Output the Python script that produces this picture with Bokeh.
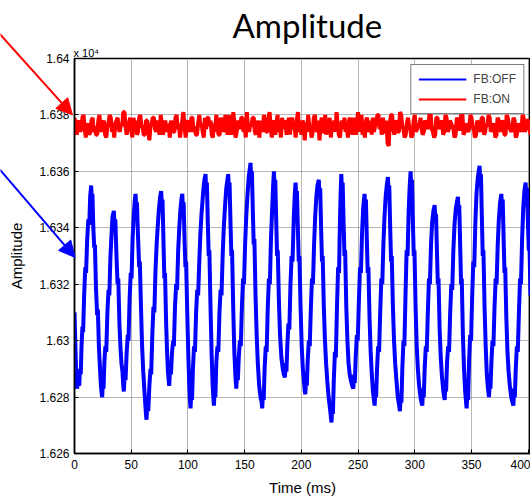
from bokeh.plotting import figure
from bokeh.models import (FixedTicker, Title, Range1d, Arrow, NormalHead)
from bokeh.embed import file_html
from bokeh.resources import INLINE

# ---------------- data ----------------
# FB:OFF (blue): time (ms) and amplitude (raw units; axis shows x 10^4)
t_off = [
    0.0, 0.8, 1.5, 2.0, 2.4, 3.0, 3.5, 4.2, 4.8, 5.5, 6.2, 7.0, 7.6, 8.5, 9.5, 10.2, 11.2, 12.2, 13.0, 13.8, 14.7,
    15.2, 15.8, 16.6, 17.4, 18.0, 19.0, 20.0, 20.6, 21.5, 22.5, 23.3, 24.0, 24.4,
    25.0, 25.6, 26.3, 27.2, 28.0, 29.0, 30.0, 30.7, 31.7, 32.7, 33.5, 34.7,
    35.3, 36.0, 37.0, 38.0, 38.6, 39.6, 40.6, 41.4, 42.3, 43.0, 43.5,
    44.2, 45.0, 46.0, 47.0, 47.6, 48.6, 49.6, 50.3, 51.2, 52.2, 53.0, 53.8,
    54.4, 55.0, 56.0, 57.0, 57.6, 58.6, 59.6, 60.6, 61.5, 62.5, 63.2, 63.5,
    64.2, 65.0, 66.0, 67.0, 67.6, 68.6, 69.6, 70.4, 71.4, 72.4, 73.3, 74.3, 75.5, 76.4,
    77.0, 77.6, 78.4, 79.2, 79.8, 80.8, 81.6, 82.4, 83.0, 83.5,
    84.2, 85.0, 86.0, 87.0, 87.6, 88.6, 89.6, 90.4, 91.4, 92.4, 93.3, 94.2, 95.0,
    95.6, 96.2, 97.0, 97.8, 98.4, 99.4, 100.4, 101.2, 101.8, 102.3,
    103.0, 103.6, 104.4, 105.4, 106.2, 107.2, 108.2, 109.0, 110.0, 111.0, 112.0, 113.5, 114.5, 115.5,
    116.1, 116.7, 117.5, 118.3, 118.9, 119.9, 120.9, 121.8, 122.4, 122.9,
    123.6, 124.2, 125.0, 126.0, 126.8, 127.8, 128.8, 129.6, 130.6, 131.6, 132.6, 133.8, 135.5,
    136.1, 136.7, 137.5, 138.3, 138.9, 139.9, 140.9, 141.8, 142.6,
    143.3, 144.0, 144.8, 145.8, 146.6, 147.6, 148.6, 149.4, 150.4, 151.4, 152.4, 153.6, 155.2,
    155.8, 156.4, 157.2, 158.0, 158.6, 159.6, 160.6, 161.6, 162.8, 164.0, 165.0, 165.5,
    166.2, 166.8, 167.6, 168.6, 169.4, 170.4, 171.4, 172.2, 173.2, 174.2, 175.0, 175.8,
    176.4, 177.0, 177.8, 178.6, 179.2, 180.2, 181.2, 182.4, 183.6, 184.6, 185.5,
    186.2, 186.8, 187.6, 188.6, 189.4, 190.4, 191.4, 192.2, 193.2, 194.2, 194.9,
    195.5, 196.1, 196.9, 197.7, 198.3, 199.3, 200.3, 201.3, 202.4, 203.0, 203.5,
    204.2, 204.8, 205.6, 206.6, 207.4, 208.4, 209.4, 210.2, 211.2, 212.2, 213.2, 214.2, 215.4,
    216.0, 216.6, 217.4, 218.2, 218.8, 219.8, 220.8, 221.8, 222.8, 224.0, 225.2, 226.0, 226.6,
    227.2, 227.8, 228.6, 229.6, 230.4, 231.4, 232.4, 233.2, 234.0, 234.6, 235.2,
    235.8, 236.4, 237.2, 238.0, 238.6, 239.6, 240.6, 241.6, 242.6, 243.6, 244.8, 245.8,
    246.5, 247.1, 247.9, 248.9, 249.7, 250.7, 251.7, 252.5, 253.5, 254.5, 255.7,
    256.3, 256.9, 257.7, 258.5, 259.1, 260.1, 261.1, 262.1, 263.1, 264.0, 264.6,
    265.3, 265.9, 266.7, 267.7, 268.5, 269.5, 270.5, 271.3, 272.3, 273.3, 274.3, 275.3, 276.3,
    276.9, 277.5, 278.3, 279.1, 279.7, 280.7, 281.7, 282.7, 283.8, 285.0, 286.2, 286.9,
    287.6, 288.2, 289.0, 290.0, 290.8, 291.8, 292.8, 293.6, 294.6, 295.4, 296.3,
    296.9, 297.5, 298.3, 299.1, 299.7, 300.7, 301.7, 302.7, 303.8, 305.0, 306.0, 306.6,
    307.3, 307.9, 308.7, 309.7, 310.5, 311.5, 312.5, 313.3, 314.3, 315.3, 316.4, 317.5,
    318.1, 318.7, 319.5, 320.3, 320.9, 321.9, 322.9, 324.0, 325.2, 326.3,
    327.0, 327.6, 328.4, 329.4, 330.2, 331.2, 332.2, 333.0, 334.0, 335.0, 336.2, 338.0,
    338.6, 339.2, 340.0, 340.8, 341.4, 342.4, 343.4, 344.4, 345.2, 345.7,
    346.4, 347.0, 347.8, 348.8, 349.6, 350.6, 351.6, 352.4, 353.4, 354.4, 355.6, 357.1,
    357.7, 358.3, 359.1, 359.9, 360.5, 361.5, 362.5, 363.5, 364.5, 365.4,
    366.1, 366.7, 367.5, 368.5, 369.3, 370.3, 371.3, 372.1, 373.1, 374.1, 375.2, 376.3,
    376.9, 377.5, 378.3, 379.1, 379.7, 380.7, 381.7, 382.7, 383.8, 385.0, 386.2, 386.9,
    387.6, 388.2, 389.0, 390.0, 390.8, 391.8, 392.8, 393.6, 394.6, 395.6, 396.6, 397.7,
    398.3, 398.9, 399.7, 400.5, 401.1, 402.0]
amp_off = [
    16310, 16298, 16288, 16284, 16283, 16289, 16285, 16284, 16290, 16288, 16298, 16305, 16303, 16316, 16326, 16324, 16336, 16343, 16341, 16351, 16355,
    16350, 16352, 16340, 16333, 16334, 16318, 16309, 16311, 16298, 16290, 16284, 16281, 16280,
    16286, 16283, 16292, 16298, 16296, 16310, 16318, 16316, 16330, 16338, 16344, 16346,
    16341, 16343, 16330, 16320, 16322, 16306, 16297, 16292, 16289, 16284, 16282,
    16288, 16286, 16296, 16302, 16300, 16315, 16324, 16322, 16336, 16344, 16349, 16352,
    16347, 16349, 16337, 16326, 16328, 16312, 16298, 16289, 16283, 16277, 16273, 16272,
    16278, 16275, 16284, 16290, 16288, 16302, 16312, 16310, 16325, 16334, 16340, 16346, 16351, 16353,
    16348, 16350, 16336, 16322, 16324, 16306, 16296, 16289, 16286, 16284,
    16290, 16288, 16296, 16300, 16298, 16312, 16320, 16318, 16332, 16340, 16346, 16350, 16352,
    16347, 16349, 16336, 16326, 16328, 16310, 16294, 16284, 16279, 16276,
    16282, 16279, 16290, 16298, 16296, 16310, 16318, 16316, 16328, 16338, 16345, 16353, 16357, 16359,
    16353, 16356, 16342, 16330, 16332, 16312, 16295, 16284, 16280, 16277,
    16283, 16280, 16292, 16298, 16296, 16310, 16318, 16316, 16330, 16340, 16347, 16354, 16359,
    16353, 16356, 16342, 16330, 16332, 16312, 16296, 16288, 16283,
    16289, 16286, 16294, 16300, 16298, 16312, 16322, 16320, 16334, 16344, 16351, 16358, 16363,
    16357, 16360, 16346, 16334, 16336, 16316, 16302, 16292, 16284, 16280, 16278, 16276,
    16282, 16279, 16290, 16298, 16296, 16312, 16322, 16320, 16336, 16346, 16354, 16360,
    16354, 16357, 16343, 16330, 16332, 16314, 16302, 16294, 16290, 16288, 16287,
    16292, 16289, 16298, 16306, 16304, 16320, 16330, 16328, 16342, 16352, 16356,
    16350, 16353, 16340, 16328, 16330, 16312, 16298, 16290, 16285, 16282, 16281,
    16287, 16284, 16293, 16300, 16298, 16312, 16322, 16320, 16334, 16344, 16351, 16355, 16357,
    16351, 16354, 16340, 16328, 16330, 16312, 16300, 16292, 16286, 16280, 16276, 16273, 16271,
    16277, 16274, 16286, 16296, 16294, 16312, 16326, 16324, 16342, 16352, 16359,
    16353, 16356, 16342, 16330, 16332, 16312, 16300, 16292, 16288, 16286, 16284, 16283,
    16288, 16285, 16294, 16302, 16300, 16314, 16326, 16324, 16338, 16347, 16352,
    16347, 16350, 16336, 16324, 16326, 16308, 16296, 16288, 16282, 16279, 16277,
    16283, 16280, 16290, 16298, 16296, 16310, 16322, 16320, 16334, 16344, 16351, 16355, 16358,
    16352, 16355, 16340, 16328, 16330, 16312, 16300, 16292, 16286, 16280, 16277, 16275,
    16281, 16278, 16290, 16300, 16298, 16316, 16332, 16330, 16346, 16354, 16360,
    16354, 16357, 16342, 16330, 16332, 16312, 16298, 16290, 16284, 16280, 16278, 16277,
    16283, 16280, 16290, 16298, 16296, 16310, 16322, 16320, 16334, 16342, 16346, 16348,
    16343, 16345, 16332, 16320, 16322, 16304, 16294, 16287, 16282, 16279,
    16285, 16282, 16292, 16298, 16296, 16310, 16320, 16318, 16332, 16341, 16347, 16351,
    16346, 16348, 16334, 16320, 16322, 16302, 16290, 16282, 16278, 16276,
    16282, 16279, 16292, 16302, 16300, 16316, 16328, 16326, 16342, 16352, 16358, 16362,
    16356, 16359, 16344, 16330, 16332, 16312, 16298, 16288, 16283, 16280,
    16286, 16283, 16292, 16300, 16298, 16312, 16322, 16320, 16334, 16343, 16349, 16352,
    16347, 16350, 16336, 16324, 16326, 16308, 16296, 16289, 16284, 16280, 16278, 16277,
    16283, 16280, 16290, 16298, 16296, 16310, 16322, 16320, 16336, 16347, 16353, 16356,
    16351, 16354, 16342, 16332, 16334, 16316]

# FB:ON (red): sampled every 1 ms
SAMPLE_MS = 1.0
amp_on = [
    16379, 16376, 16373, 16377, 16378, 16374, 16375, 16379, 16380, 16375, 16372, 16376, 16377, 16373, 16374, 16378, 16379, 16374, 16376, 16373,
    16373, 16378, 16380, 16375, 16374, 16377, 16378, 16373, 16372, 16376, 16377, 16380, 16379, 16374, 16376, 16372, 16377, 16378, 16379, 16375,
    16374, 16377, 16376, 16381, 16381, 16376, 16373, 16375, 16377, 16379, 16375, 16372, 16379, 16376, 16378, 16373, 16374, 16379, 16380, 16376,
    16376, 16373, 16373, 16378, 16378, 16374, 16371, 16376, 16377, 16379, 16379, 16375, 16374, 16378, 16376, 16373, 16380, 16377, 16373, 16376,
    16378, 16374, 16375, 16377, 16372, 16378, 16376, 16374, 16374, 16379, 16380, 16375, 16377, 16372, 16375, 16378, 16381, 16376, 16372, 16377,
    16378, 16375, 16374, 16379, 16379, 16374, 16376, 16373, 16373, 16377, 16380, 16376, 16377, 16374, 16372, 16379, 16375, 16379, 16379, 16376,
    16378, 16373, 16372, 16377, 16374, 16380, 16376, 16373, 16373, 16379, 16377, 16374, 16375, 16380, 16376, 16373, 16380, 16377, 16373, 16375,
    16381, 16377, 16372, 16374, 16378, 16376, 16375, 16379, 16379, 16374, 16376, 16372, 16381, 16375, 16374, 16377, 16376, 16379, 16379, 16374,
    16373, 16378, 16376, 16372, 16378, 16375, 16374, 16380, 16377, 16374, 16374, 16379, 16381, 16375, 16372, 16377, 16378, 16373, 16377, 16380,
    16374, 16376, 16372, 16379, 16375, 16378, 16377, 16373, 16376, 16379, 16373, 16378, 16379, 16375, 16376, 16372, 16378, 16381, 16374, 16376,
    16373, 16378, 16377, 16371, 16377, 16374, 16380, 16376, 16376, 16372, 16374, 16379, 16380, 16375, 16374, 16378, 16371, 16377, 16379, 16374,
    16374, 16380, 16373, 16376, 16376, 16379, 16372, 16377, 16375, 16378, 16374, 16381, 16377, 16373, 16372, 16376, 16378, 16375, 16379, 16374,
    16376, 16372, 16378, 16379, 16375, 16373, 16379, 16376, 16373, 16377, 16381, 16374, 16377, 16380, 16373, 16376, 16372, 16378, 16379, 16374,
    16375, 16378, 16373, 16379, 16374, 16376, 16377, 16380, 16380, 16375, 16376, 16373, 16379, 16374, 16374, 16378, 16370, 16369, 16377, 16380,
    16380, 16375, 16373, 16377, 16378, 16374, 16374, 16381, 16380, 16376, 16375, 16372, 16373, 16377, 16379, 16376, 16375, 16372, 16373, 16378,
    16380, 16374, 16375, 16377, 16376, 16379, 16375, 16373, 16374, 16378, 16377, 16376, 16375, 16381, 16380, 16375, 16374, 16372, 16373, 16379,
    16379, 16375, 16376, 16377, 16378, 16373, 16374, 16380, 16379, 16374, 16375, 16378, 16377, 16376, 16375, 16372, 16373, 16379, 16378, 16375,
    16375, 16381, 16380, 16373, 16374, 16377, 16376, 16374, 16375, 16380, 16379, 16376, 16375, 16372, 16373, 16378, 16377, 16375, 16374, 16379,
    16379, 16373, 16374, 16377, 16376, 16380, 16379, 16374, 16375, 16376, 16377, 16372, 16373, 16379, 16378, 16375, 16374, 16378, 16377, 16373,
    16373, 16380, 16379, 16376, 16375, 16374, 16375, 16379, 16378, 16372, 16373, 16377, 16376, 16375, 16374, 16380, 16379, 16374, 16375, 16378,
    16378, 16376, 16373]
t_on = [i * SAMPLE_MS for i in range(len(amp_on))]

x_ticks = [0, 50, 100, 150, 200, 250, 300, 350, 400]
y_ticks = [16260, 16280, 16300, 16320, 16340, 16360, 16380, 16400]
y_tick_labels = ["1.626", "1.628", "1.63", "1.632", "1.634", "1.636", "1.638", "1.64"]

FONT = "Liberation Sans"
RED = "#FF0000"
BLUE = "#0000FF"

W, H = 530, 498
LEFT, RIGHT, TOP, BOTTOM = 74, 0, 58, 45
X0, X1 = 0, 402
Y0, Y1 = 16260, 16400

# ---------------- main figure ----------------
fig = figure(width=W, height=H, output_backend="svg", toolbar_location=None,
             x_range=Range1d(X0, X1), y_range=Range1d(Y0, Y1),
             min_border_left=LEFT, min_border_right=RIGHT, min_border_top=TOP,
             min_border_bottom=BOTTOM, title="Amplitude")
fig.background_fill_color = "white"
fig.border_fill_color = "white"
fig.outline_line_color = "black"
fig.outline_line_width = 1.5
fig.outline_line_alpha = 1

fig.title.text_font = "Lato"
fig.title.text_font_size = "33px"
fig.title.text_font_style = "normal"
fig.title.text_color = "black"
fig.title.align = "left"
fig.title.offset = 158
fig.title.standoff = 0

fig.line(t_off, amp_off, color=BLUE, line_width=4)
fig.line(t_on, amp_on, color=RED, line_width=4)
# thin lines used only for the legend swatches
fig.line([0.0], [float("nan")], color=BLUE, line_width=2, legend_label="FB:OFF")
fig.line([0.0], [float("nan")], color=RED, line_width=2, legend_label="FB:ON")

for ax in (fig.xaxis[0], fig.yaxis[0]):
    ax.major_tick_in = 4
    ax.major_tick_out = 0
    ax.minor_tick_line_color = None
    ax.axis_line_width = 1.5
    ax.axis_line_color = "black"
    ax.major_tick_line_color = "black"
    ax.major_label_text_font = FONT
    ax.major_label_text_font_size = "12px"
    ax.major_label_text_color = "black"
    ax.axis_label_text_font = FONT
    ax.axis_label_text_font_size = "15px"
    ax.axis_label_text_font_style = "normal"
    ax.axis_label_text_color = "black"

fig.xaxis.ticker = FixedTicker(ticks=x_ticks)
fig.yaxis.ticker = FixedTicker(ticks=y_ticks)
fig.yaxis.major_label_overrides = {t: s for t, s in zip(y_ticks, y_tick_labels)}
fig.xaxis.axis_label = "Time (ms)"
fig.yaxis.axis_label = "Amplitude"
fig.xaxis.major_label_standoff = 6
fig.yaxis.major_label_standoff = 5
fig.xaxis.axis_label_standoff = 7
fig.yaxis.axis_label_standoff = 11

fig.add_layout(Title(text="x 10\u2074", text_font=FONT, text_font_size="11px",
                     text_font_style="normal", text_color="black", align="left",
                     offset=-1, standoff=0), "above")

for g in (fig.xgrid[0], fig.ygrid[0]):
    g.grid_line_color = "#6e6e6e"
    g.grid_line_dash = "1 1"
    g.grid_line_width = 1

lg = fig.legend[0]
lg.location = "top_right"
lg.margin = 6
lg.padding = 7
lg.spacing = 6
lg.glyph_width = 48
lg.glyph_height = 12
lg.label_height = 12
lg.label_standoff = 7
lg.label_text_font = FONT
lg.label_text_font_size = "12px"
lg.border_line_color = "black"
lg.border_line_width = 1.5
lg.background_fill_alpha = 1

# ---------------- transparent overlay for the call-out arrows ----------------
# same data scales as the main frame, but its frame spans the whole canvas
fw = W - LEFT - RIGHT
fh = H - TOP - BOTTOM
kx = (X1 - X0) / fw
ky = (Y1 - Y0) / fh
ov = figure(width=W, height=H, output_backend="svg", toolbar_location=None,
            x_axis_type=None, y_axis_type=None,
            min_border_left=0, min_border_right=0, min_border_top=0, min_border_bottom=0,
            x_range=Range1d(X0 - LEFT * kx, X1 + RIGHT * kx),
            y_range=Range1d(Y0 - BOTTOM * ky, Y1 + TOP * ky))
ov.background_fill_alpha = 0
ov.border_fill_alpha = 0
ov.outline_line_color = None
ov.grid.visible = False
ov.styles = {"position": "absolute", "left": "0px", "top": "0px"}

ov.add_layout(Arrow(end=NormalHead(size=16, fill_color=RED, line_color=RED),
                    x_start=-70, y_start=16410.5, x_end=-1.8, y_end=16380.0,
                    line_color=RED, line_width=2))
ov.add_layout(Arrow(end=NormalHead(size=16, fill_color=BLUE, line_color=BLUE),
                    x_start=-70, y_start=16362.6, x_end=0.5, y_end=16329.5,
                    line_color=BLUE, line_width=2))

# two roots: the chart, and the transparent arrow layer placed on top of it
p = [fig, ov]

open("out.html", "w").write(file_html(p, INLINE))
